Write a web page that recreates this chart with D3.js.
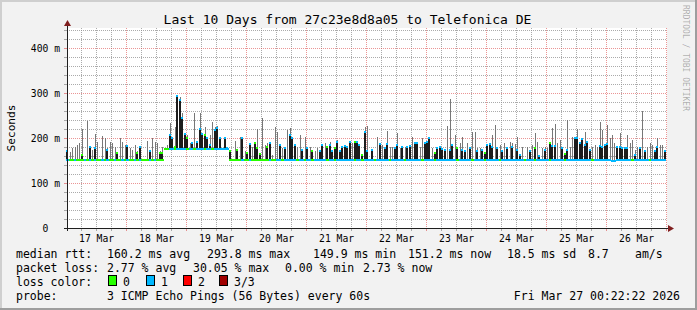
<!DOCTYPE html>
<html>
<head>
<meta charset="utf-8">
<script src="https://cdn.jsdelivr.net/npm/d3@7"></script>
<style>
  body { margin: 0; background: #f2f2f2; }
  svg text { font-family: "DejaVu Sans Mono", monospace; fill: #000; }
</style>
</head>
<body>
<svg id="smoke-graph" width="697" height="310"></svg>
<script>
// ---- data ----
const chartTitle = 'Last 10 Days from 27c23e8d8a05 to Telefonica DE';
const startTime = new Date(Date.UTC(2026, 2, 17, 0, 22, 22));
const endTime = new Date(Date.UTC(2026, 2, 27, 0, 22, 22));
const yTicks = [0, 100, 200, 300, 400];

// min rtt is a step: hour it starts at, value in ms
const minStartHour = [0, 39, 65];
const minRtt = [151, 175, 151];

// one value per hour, ms
const medRtt = [
  172,151,151,151,151,151,162,151,151,181,151,177,151,151,151,151,173,151,151,151,
  166,151,151,151,183,151,151,151,166,180,151,151,151,170,151,151,151,166,166,175,
  175,207,199,180,294,285,244,208,200,175,188,175,192,221,208,207,199,184,175,218,
  222,199,175,201,177,171,151,151,173,151,201,151,166,186,151,188,177,164,151,151,
  181,188,151,151,151,184,151,177,151,207,199,184,151,151,173,151,177,151,170,151,
  151,170,184,151,181,184,170,177,192,170,181,183,181,192,151,192,190,184,162,214,
  170,151,173,151,151,186,151,177,186,151,151,177,184,151,181,151,181,183,151,188,
  188,151,151,188,192,199,151,166,177,181,175,173,151,173,184,151,177,151,173,170,
  151,177,151,151,171,151,173,166,184,186,181,151,177,151,172,151,177,151,181,151,
  173,162,151,151,151,170,151,177,151,159,151,173,151,188,183,183,151,151,177,164,
  173,151,151,199,200,188,197,184,192,173,151,151,151,183,181,184,186,151,149,149,
  181,179,177,177,177,151,151,162,151,177,151,170,151,151,151,170,181,151,151,170
];
const maxRtt = [
  172,168,177,180,184,188,221,151,238,181,173,208,192,151,205,199,177,192,188,181,
  166,199,192,184,183,177,173,184,170,180,151,151,193,170,199,192,188,170,181,175,
  184,233,199,225,294,290,255,208,207,188,188,255,192,255,208,225,199,207,236,225,
  226,199,175,201,177,171,151,193,173,203,201,170,166,186,181,188,221,164,244,184,
  188,188,162,225,214,184,177,177,218,222,199,184,181,207,173,203,177,181,170,170,
  177,170,184,188,181,192,170,177,196,170,181,183,181,192,188,192,190,184,162,225,
  227,151,173,151,203,186,184,177,216,181,181,177,210,177,181,181,181,183,203,188,
  188,181,199,188,192,199,177,166,181,181,175,173,227,287,184,207,177,188,203,170,
  188,177,214,214,177,177,173,166,184,186,207,229,177,184,172,188,177,190,188,186,
  203,162,181,151,181,170,184,210,192,159,177,181,177,188,223,230,188,196,177,164,
  240,181,203,199,220,190,197,214,192,173,181,184,181,236,218,184,229,199,207,188,
  181,210,177,177,207,188,196,173,181,181,260,170,181,188,184,170,199,184,184,170
];
// pings lost out of 3
const lossCount = [
  1,0,0,1,0,0,0,1,0,1,0,1,0,0,1,0,1,0,0,1,
  0,0,1,0,1,0,0,1,0,1,0,0,0,1,0,1,0,0,0,0,
  0,1,1,0,1,1,1,1,0,1,1,0,1,1,1,0,1,1,0,1,
  1,1,1,1,1,0,0,0,0,0,1,0,0,1,0,0,0,0,0,0,
  0,1,0,0,1,1,0,1,1,1,1,1,0,1,1,0,1,1,0,1,
  1,1,1,1,0,1,1,0,1,1,1,1,1,1,1,0,1,1,0,1,
  1,1,1,0,1,1,1,1,1,0,1,1,1,1,1,0,1,1,1,1,
  1,1,0,1,1,1,1,0,1,1,1,1,1,1,1,1,0,1,1,1,
  1,1,0,1,1,1,1,0,1,1,1,1,1,0,1,1,1,1,1,1,
  1,1,1,0,1,1,1,0,1,1,1,1,1,0,1,1,1,1,1,0,
  1,1,1,1,1,1,1,1,1,1,0,1,1,1,1,1,1,1,1,1,
  1,1,1,1,1,1,0,1,1,1,1,1,1,0,1,1,1,1,1,1
];

const lossColors = ['#26ff00', '#00b8ff', '#ff0000', '#a00000'];
const lossLabels = ['0', '1', '2', '3/3'];
const rttLegend = ['160.2 ms avg', '293.8 ms max', '149.9 ms min', '151.2 ms now', '18.5 ms sd', '8.7', 'am/s'];
const lossLegend = ['2.77 % avg', '30.05 % max', '0.00 % min', '2.73 % now'];
const probeText = '3 ICMP Echo Pings (56 Bytes) every 60s';
const stampText = 'Fri Mar 27 00:22:22 2026';

// ---- layout ----
const W = 697, H = 310;
const plotL = 67, plotR = 667, plotT = 28, plotB = 228;
const gridCol = 'rgba(143,143,143,0.75)';
const mgridCol = 'rgba(222,79,79,0.6)';
const arrowCol = '#801f1f';
const axisCol = '#1f1f1f';

const svg = d3.select('svg#smoke-graph');

// background + 3d shade frame
svg.append('rect').attr('width', W).attr('height', H).attr('fill', '#f2f2f2');
svg.append('rect').attr('x', 0).attr('y', 0).attr('width', W).attr('height', 2).attr('fill', '#cfcfcf');
svg.append('rect').attr('x', 0).attr('y', 0).attr('width', 2).attr('height', H).attr('fill', '#cfcfcf');
svg.append('rect').attr('x', 0).attr('y', H - 2).attr('width', W).attr('height', 2).attr('fill', '#9e9e9e');
svg.append('rect').attr('x', W - 2).attr('y', 0).attr('width', 2).attr('height', H).attr('fill', '#9e9e9e');

svg.append('rect')
  .attr('x', plotL).attr('y', plotT)
  .attr('width', plotR - plotL).attr('height', plotB - plotT)
  .attr('fill', '#ffffff');

const x = d3.scaleUtc().domain([startTime, endTime]).range([plotL, plotR]);
const y = d3.scaleLinear().domain([0, 444.4]).range([plotB, plotT]);

// ---- grid ----
const gGrid = svg.append('g').attr('shape-rendering', 'crispEdges');
const minorY = d3.range(20, 441, 20).filter(v => v % 100 !== 0);
const majorY = yTicks.filter(v => v > 0);
const dayLines = d3.utcDay.range(startTime, endTime);
const sixHours = d3.utcHour.every(6).range(startTime, endTime).filter(d => d.getUTCHours() !== 0);

gGrid.selectAll('.ming').data(minorY).enter().append('line')
  .attr('x1', plotL).attr('x2', plotR)
  .attr('y1', d => Math.round(y(d)) + 0.5).attr('y2', d => Math.round(y(d)) + 0.5)
  .attr('stroke', gridCol).attr('stroke-dasharray', '1,1');
gGrid.selectAll('.minv').data(sixHours).enter().append('line')
  .attr('x1', d => Math.round(x(d)) + 0.5).attr('x2', d => Math.round(x(d)) + 0.5)
  .attr('y1', plotT).attr('y2', plotB)
  .attr('stroke', gridCol).attr('stroke-dasharray', '1,1');
gGrid.selectAll('.majg').data(majorY).enter().append('line')
  .attr('x1', plotL).attr('x2', plotR)
  .attr('y1', d => Math.round(y(d)) + 0.5).attr('y2', d => Math.round(y(d)) + 0.5)
  .attr('stroke', mgridCol).attr('stroke-dasharray', '1,1');
gGrid.selectAll('.majv').data(dayLines).enter().append('line')
  .attr('x1', d => Math.round(x(d)) + 0.5).attr('x2', d => Math.round(x(d)) + 0.5)
  .attr('y1', plotT).attr('y2', plotB)
  .attr('stroke', mgridCol).attr('stroke-dasharray', '1,1');

// little ticks outside the canvas
gGrid.selectAll('.tx').data(sixHours.concat(dayLines)).enter().append('line')
  .attr('x1', d => Math.round(x(d)) + 0.5).attr('x2', d => Math.round(x(d)) + 0.5)
  .attr('y1', plotB).attr('y2', plotB + 3)
  .attr('stroke', d => d.getUTCHours() === 0 ? mgridCol : gridCol);
gGrid.selectAll('.ty').data(minorY.concat(majorY)).enter().append('line')
  .attr('x1', plotL - 3).attr('x2', plotL)
  .attr('y1', d => Math.round(y(d)) + 0.5).attr('y2', d => Math.round(y(d)) + 0.5)
  .attr('stroke', d => d % 100 === 0 ? mgridCol : gridCol);

// ---- smoke + median ----
const bins = medRtt.map((m, i) => {
  let k = 0;
  minStartHour.forEach((h, j) => { if (i >= h) k = j; });
  return {
    t: d3.utcHour.offset(startTime, i),
    t2: d3.utcHour.offset(startTime, i + 1),
    min: minRtt[k], med: m, max: maxRtt[i], loss: lossCount[i]
  };
});

const gData = svg.append('g').attr('shape-rendering', 'crispEdges');

gData.selectAll('.grey').data(bins.filter(d => d.max > d.med)).enter().append('rect')
  .attr('x', d => Math.round(x(d.t)))
  .attr('width', 1)
  .attr('y', d => y(d.max))
  .attr('height', d => y(Math.max(d.med, d.min)) - y(d.max))
  .attr('fill', '#777777');

gData.selectAll('.dark').data(bins.filter(d => d.med > d.min + 1)).enter().append('rect')
  .attr('x', d => Math.round(x(d.t)) - 1)
  .attr('width', 2)
  .attr('y', d => y(d.med))
  .attr('height', d => y(d.min) - y(d.med))
  .attr('fill', '#1c1c1c');

// loss coloured line along the floor of the smoke
gData.selectAll('.floor').data(bins).enter().append('rect')
  .attr('x', d => Math.round(x(d.t)) - 1)
  .attr('width', d => Math.round(x(d.t2)) - Math.round(x(d.t)))
  .attr('y', d => Math.round(y(Math.min(d.med, d.min))) - 1)
  .attr('height', 2)
  .attr('fill', d => lossColors[d.loss]);

// median dots where the median sits above the floor
gData.selectAll('.median').data(bins.filter(d => d.med > d.min + 1)).enter().append('rect')
  .attr('x', d => Math.round(x(d.t)) - 1)
  .attr('width', 2)
  .attr('y', d => Math.round(y(d.med)) - 1)
  .attr('height', 2)
  .attr('fill', d => lossColors[d.loss]);

// ---- axes ----
const xLabels = d3.utcDay.range(d3.utcDay.floor(startTime), endTime)
  .map(d => d3.utcHour.offset(d, 12))
  .filter(d => d < endTime);
const xAxis = d3.axisBottom(x)
  .tickValues(xLabels)
  .tickFormat(d3.utcFormat('%d %b'))
  .tickSize(0).tickPadding(7);
const yAxis = d3.axisLeft(y)
  .tickValues(yTicks)
  .tickFormat(d => d === 0 ? '0  ' : d + ' m')
  .tickSize(0).tickPadding(7);

svg.append('g').attr('transform', `translate(0,${plotB})`).call(xAxis)
  .call(g => g.select('.domain').remove())
  .selectAll('text').attr('font-size', '9.7px').attr('font-family', '"DejaVu Sans Mono", monospace');
svg.append('g').attr('transform', `translate(${plotL},0)`).call(yAxis)
  .call(g => g.select('.domain').remove())
  .selectAll('text').attr('font-size', '9.7px').attr('font-family', '"DejaVu Sans Mono", monospace')
  .style('white-space', 'pre');

// axis lines and arrows
svg.append('line').attr('x1', plotL - 3).attr('x2', plotR + 2)
  .attr('y1', plotB + 0.5).attr('y2', plotB + 0.5).attr('stroke', axisCol);
svg.append('line').attr('x1', plotL + 0.5).attr('x2', plotL + 0.5)
  .attr('y1', plotB + 3).attr('y2', plotT - 3).attr('stroke', axisCol);
svg.append('path')
  .attr('d', `M${plotR + 1},${plotB - 3} L${plotR + 7},${plotB + 0.5} L${plotR + 1},${plotB + 4} Z`)
  .attr('fill', arrowCol);
svg.append('path')
  .attr('d', `M${plotL - 3},${plotT - 2} L${plotL + 0.5},${plotT - 8} L${plotL + 4},${plotT - 2} Z`)
  .attr('fill', arrowCol);

// ---- texts ----
svg.append('text').attr('x', 347.5).attr('y', 24)
  .attr('text-anchor', 'middle').attr('font-size', '13px').text(chartTitle);

svg.append('text').attr('transform', `translate(15,${(plotT + plotB) / 2}) rotate(-90)`)
  .attr('text-anchor', 'middle').attr('font-size', '11.2px').text('Seconds');

svg.append('text').attr('transform', 'translate(683,5) rotate(90)')
  .attr('font-size', '8px').style('fill', 'rgba(0,0,0,0.3)')
  .text('RRDTOOL / TOBI OETIKER');

const legendFont = '11.5px';
const row = [258, 272, 286, 300];

svg.append('text').attr('x', 16).attr('y', row[0]).attr('font-size', legendFont).text('median rtt:');
const rttX = [107, 207, 313, 408, 507, 588, 635];
rttLegend.forEach((s, i) => {
  svg.append('text').attr('x', rttX[i]).attr('y', row[0]).attr('font-size', legendFont).text(s);
});

svg.append('text').attr('x', 16).attr('y', row[1]).attr('font-size', legendFont).text('packet loss:');
const lossX = [107, 193, 285, 363];
lossLegend.forEach((s, i) => {
  svg.append('text').attr('x', lossX[i]).attr('y', row[1]).attr('font-size', legendFont).text(s);
});

svg.append('text').attr('x', 16).attr('y', row[2]).attr('font-size', legendFont).text('loss color:');
const boxX = [108, 146, 183, 219];
lossLabels.forEach((s, i) => {
  svg.append('rect').attr('x', boxX[i] + 0.5).attr('y', row[2] - 10.5)
    .attr('width', 8).attr('height', 10)
    .attr('fill', lossColors[i]).attr('stroke', '#000');
  svg.append('text').attr('x', boxX[i] + 15).attr('y', row[2]).attr('font-size', legendFont).text(s);
});

svg.append('text').attr('x', 16).attr('y', row[3]).attr('font-size', legendFont).text('probe:');
svg.append('text').attr('x', 107).attr('y', row[3]).attr('font-size', legendFont).text(probeText);
svg.append('text').attr('x', 680).attr('y', row[3]).attr('text-anchor', 'end')
  .attr('font-size', legendFont).text(stampText);
</script>
</body>
</html>
